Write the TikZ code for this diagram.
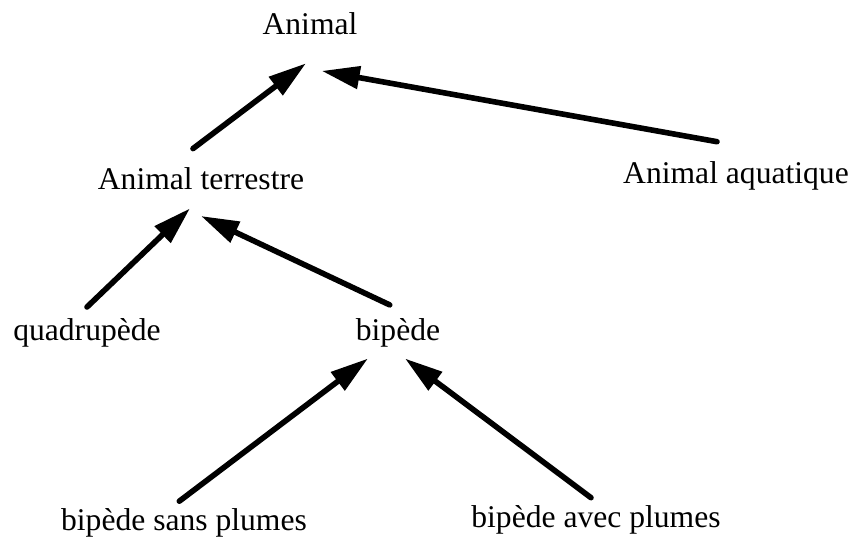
\documentclass[tikz,border=0pt]{standalone}
\usepackage{fontspec}
\setmainfont{Liberation Serif}
\usetikzlibrary{arrows.meta}
\tikzset{isa/.style={line width=2.8pt, line cap=round,
  -{Triangle[length=19pt,width=11pt]}}}
\tikzset{lbl/.style={anchor=base, inner sep=0pt,
  font=\fontsize{15.8}{19}\selectfont}}

\begin{document}
\begin{tikzpicture}[x=0.5pt, y=0.5pt]
      \useasboundingbox (0, 0) rectangle (851, 542);

      \node [lbl] (ani) at (310, 507.5) {Animal};
      \node [lbl] (ter) at (201, 353) {Animal terrestre};
      \node [lbl] (aqu) at (736, 358) {Animal aquatique};
      \node [lbl] (quad) at (87, 201.5) {quadrupède};
      \node [lbl] (bip) at (398, 201.5) {bipède};
      \node [lbl] (sans) at (184, 12) {bipède sans plumes};
      \node [lbl] (avec) at (596, 15) {bipède avec plumes};

      \draw [isa] ([shift={(-8, 40.4)}]ter.base) -- ([shift={(-4, -28.8)}]ani.base);
      \draw [isa] ([shift={(-19, 42.3)}]aqu.base) -- ([shift={(11.7, -36.4)}]ani.base);

      \draw [isa] ([shift={(0, 33.5)}]quad.base) -- ([shift={(-11, -19.4)}]ter.base);
      \draw [isa] ([shift={(-8.3, 35.6)}]bip.base) -- ([shift={(0, -27)}]ter.base);

      \draw [isa] ([shift={(-4.7, 28.8)}]sans.base) -- ([shift={(-30, -18)}]bip.base);
      \draw [isa] ([shift={(-5, 29.3)}]avec.base) -- ([shift={(7, -18)}]bip.base);
    \end{tikzpicture}
\end{document}
